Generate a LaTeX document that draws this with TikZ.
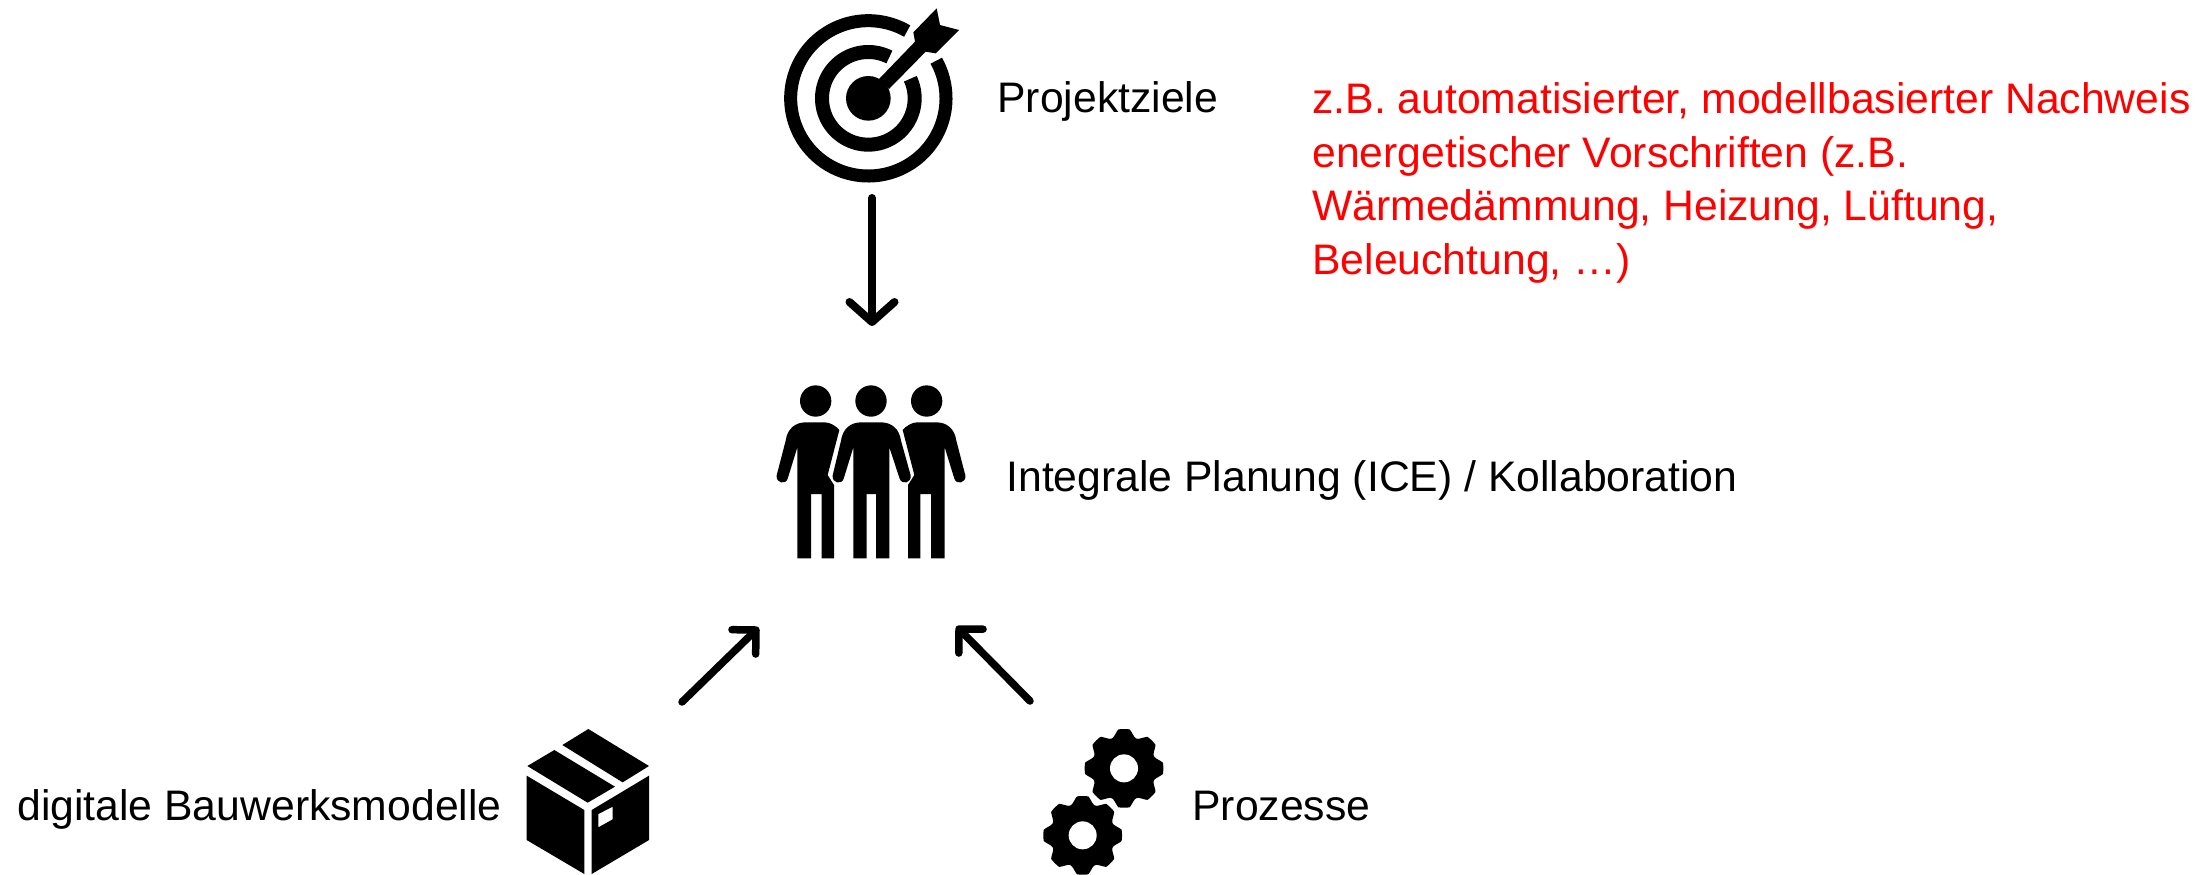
\documentclass[tikz,border=0pt]{standalone}
\usepackage{fontspec}
\setmainfont{Liberation Sans}
\usetikzlibrary{calc,arrows.meta}
\pgfdeclarearrow{
  name=VeeTip,
  setup code={
    \pgfarrowssettipend{0pt}
    \pgfarrowssetlineend{-2pt}
    \pgfarrowssavethe\pgfarrowlength
    \pgfarrowssavethe\pgfarrowwidth
  },
  drawing code={
    \pgfsetdash{}{0pt}
    \pgfsetroundcap
    \pgfsetroundjoin
    \pgfpathmoveto{\pgfqpoint{-\pgfarrowlength}{.5\pgfarrowwidth}}
    \pgfpathlineto{\pgfqpoint{0pt}{0pt}}
    \pgfpathlineto{\pgfqpoint{-\pgfarrowlength}{-.5\pgfarrowwidth}}
    \pgfusepathqstroke
  },
  parameters={\the\pgfarrowlength,\the\pgfarrowwidth},
  defaults={length=10pt,width=20pt}
}
\tikzset{
  icon/.style={fill=black,draw=none},
  label/.style={font=\fontsize{21.35}{26.7}\selectfont,text=black,inner sep=0pt,anchor=base west},
  note/.style={font=\fontsize{21.35}{26.7}\selectfont,text=red,inner sep=0pt,anchor=north west,align=left},
  conn/.style={line width=4pt,line cap=round,line join=round,black},
  longhead/.style={conn,-{VeeTip[length=10pt,width=22.5pt]}},
  shorthead/.style={conn,line width=3.75pt,-{VeeTip[length=8.5pt,width=17pt]}}
}
\newcommand{\gearicon}[2]{%
  \fill[icon] plot[domain=0:360,samples=361] ({#1+min(118,97+30*(0.5+0.5*cos(8*\x)))*cos(\x)},{#2-min(118,97+30*(0.5+0.5*cos(8*\x)))*sin(\x)}) -- cycle;
  \fill[white] (#1,#2) circle (42);
}
\begin{document}
\begin{tikzpicture}[x=0.5pt,y=-0.5pt]
\useasboundingbox (0,0) rectangle (2201,874);
\fill[white] (0,0) rectangle (2201,874);

% target icon
\begin{scope}[shift={(760,0)},x=0.1666667pt,y=-0.1666667pt]
  \draw[line width=6.5pt,black] plot[domain=60:389,samples=90,smooth] ({325+233*cos(\x)},{295-233*sin(\x)});
  \draw[line width=7pt,black] plot[domain=63:385,samples=90,smooth] ({325+139*cos(\x)},{295-139*sin(\x)});
  \fill[icon] (325,295) circle (67);
  \fill[icon] (357,237) -- (465,125) -- (460,97) -- (530,25) -- (540,75) -- (597,90) -- (527,160) -- (497,155) -- (387,267) -- cycle;
\end{scope}

% team icon
\begin{scope}[shift={(750,370)},x=0.1666667pt,y=-0.1666667pt]
  \fill[icon] (197,93) circle (47);
  \fill[icon] (363,93) circle (47);
  \fill[icon] (530,93) circle (47);
  % left
  \fill[icon] (142,565) -- (142,232) -- (113,326) .. controls (107,345) and (77,340) .. (80,316) -- (107,212) .. controls (112,175) and (137,157) .. (167,157) -- (225,157) .. controls (240,157) and (258,168) .. (268,180) -- (233,315) -- (252,345) -- (252,565) -- (215,565) -- (215,372) -- (183,372) -- (183,565) -- cycle;
  % right
  \fill[icon] (584,565) -- (584,232) -- (613,326) .. controls (619,345) and (649,340) .. (646,316) -- (619,212) .. controls (614,175) and (589,157) .. (559,157) -- (501,157) .. controls (486,157) and (468,168) .. (458,180) -- (493,315) -- (474,345) -- (474,565) -- (511,565) -- (511,372) -- (543,372) -- (543,565) -- cycle;
  % middle
  \fill[icon] (310,565) -- (310,232) -- (281,326) .. controls (275,345) and (245,340) .. (248,316) -- (273,212) .. controls (278,175) and (303,157) .. (333,157) -- (393,157) .. controls (423,157) and (448,175) .. (453,212) -- (482,316) .. controls (485,340) and (455,345) .. (449,326) -- (418,232) -- (418,565) -- (378,565) -- (378,372) -- (350,372) -- (350,565) -- cycle;
\end{scope}

% box icon
\begin{scope}[shift={(500,610)},x=0.1666667pt,y=-0.1666667pt]
  \fill[icon] (265,357) -- (447,468) -- (368,517) -- (187,405) -- cycle;
  \fill[icon] (163,420) -- (345,530) -- (263,578) -- (82,468) -- cycle;
  \fill[icon] (80,497) -- (253,600) -- (253,792) -- (80,690) -- cycle;
  \fill[icon,even odd rule] (275,600) -- (447,497) -- (447,690) -- (275,792) -- cycle
     (295,612) -- (338,590) -- (338,628) -- (295,652) -- cycle;
\end{scope}

% gear icon
\begin{scope}[shift={(930,610)},x=0.1666667pt,y=-0.1666667pt]
  \gearicon{582}{475}
  \gearicon{458}{676}
\end{scope}

% anchors of the connectors
\coordinate (targetOut) at (872,198);
\coordinate (teamTop) at (872,322);
\coordinate (boxOut) at (682,702);
\coordinate (teamLeft) at (756,630);
\coordinate (gearOut) at (1030,701);
\coordinate (teamRight) at (959,629);

\draw[longhead] (targetOut) -- (teamTop);
\draw[shorthead] (boxOut) -- (teamLeft);
\draw[shorthead] (gearOut) -- (teamRight);

% labels
\node[label] (lblZiele) at (997,112) {Projektziele};
\node[label] (lblTeam) at (1006,491) {Integrale Planung (ICE) / Kollaboration};
\node[label] (lblModell) at (17,820) {digitale Bauwerksmodelle};
\node[label] (lblProz) at (1192,820) {Prozesse};
\node[note] (lblNote) at (1312,82.5) {z.B. automatisierter, modellbasierter Nachweis\\energetischer Vorschriften (z.B.\\Wärmedämmung, Heizung, Lüftung,\\Beleuchtung, …)};
\end{tikzpicture}
\end{document}
